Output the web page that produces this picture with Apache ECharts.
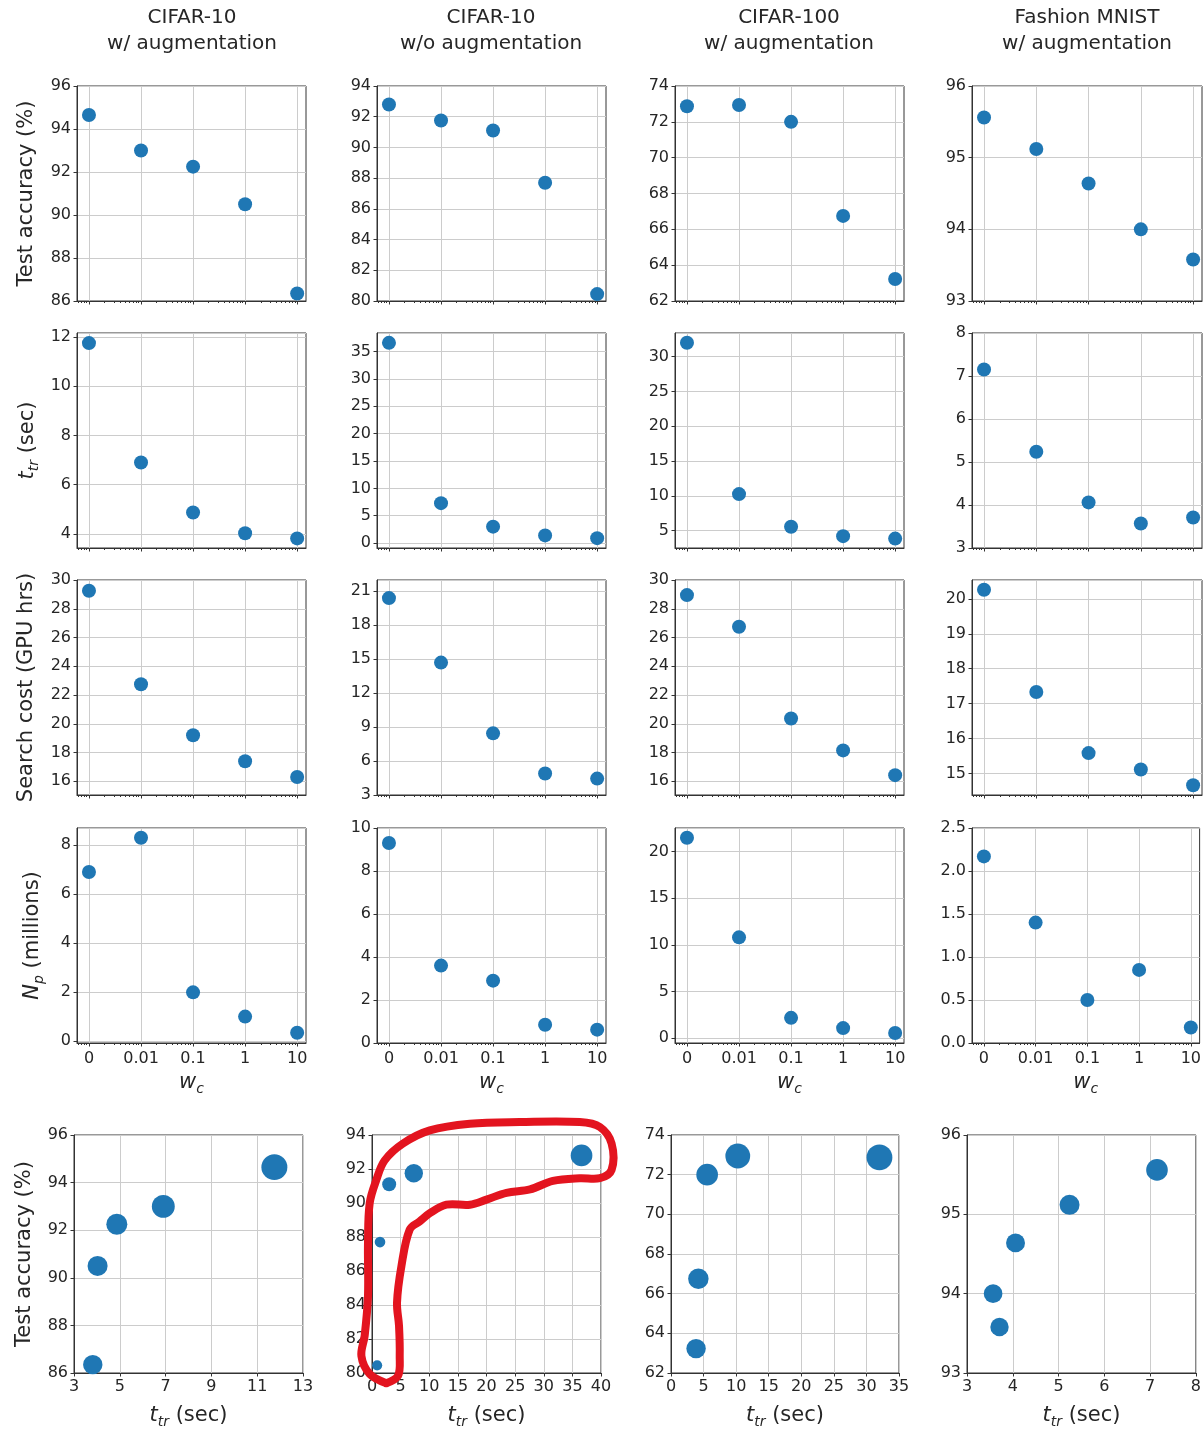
<!DOCTYPE html>
<html><head><meta charset="utf-8">
<script src="https://cdn.jsdelivr.net/npm/echarts@6/dist/echarts.min.js"></script>
<style>html,body{margin:0;padding:0;background:#fff}#c{width:1204px;height:1430px}</style>
</head><body><div id="c"></div>
<script>
// ---------- data ----------
const wcLabels = ['0', '0.01', '0.1', '1', '10'];
const wcPos = [0, 1, 2, 3, 4];
const columnTitles = ['CIFAR-10\nw/ augmentation', 'CIFAR-10\nw/o augmentation', 'CIFAR-100\nw/ augmentation', 'Fashion MNIST\nw/ augmentation'];

const accC10Aug   = [94.65, 93.0, 92.25, 90.5, 86.35];
const accC10NoAug = [92.8, 91.75, 91.1, 87.7, 80.45];
const accC100     = [72.87, 72.94, 72.0, 66.75, 63.23];
const accFMnist   = [95.56, 95.12, 94.64, 94.0, 93.58];

const tC10Aug   = [11.75, 6.9, 4.87, 4.03, 3.82];
const tC10NoAug = [36.6, 7.3, 3.0, 1.4, 0.9];
const tC100     = [32.0, 10.25, 5.55, 4.2, 3.85];
const tFMnist   = [7.15, 5.24, 4.06, 3.57, 3.71];

const costC10Aug   = [29.25, 22.75, 19.2, 17.4, 16.3];
const costC10NoAug = [20.4, 14.7, 8.45, 4.9, 4.45];
const costC100     = [28.95, 26.75, 20.37, 18.15, 16.43];
const costFMnist   = [20.26, 17.33, 15.58, 15.11, 14.66];

const npC10Aug   = [6.9, 8.3, 1.98, 0.99, 0.33];
const npC10NoAug = [9.3, 3.6, 2.9, 0.85, 0.62];
const npC100     = [21.5, 10.8, 2.15, 1.05, 0.52];
const npFMnist   = [2.17, 1.4, 0.5, 0.85, 0.18];

// hand-drawn highlight loop (data coords of CIFAR-10 w/o aug, bottom panel)
const loopT   = [2.5, 4.55, 4.84, 4.72, 4.37, 5.14, 6.59, 8.34, 10.1, 13.0, 17.1, 20.0, 23.5, 27.6, 31.6, 36.3, 39.8, 41.85, 41.85, 39.8, 36.3, 25.8, 17.1, 10.1, 5.42, 2.2, 0.77, -0.4, -0.7, -0.7, -1.28, -1.85, -0.4, 2.5];
const loopAcc = [79.4, 79.84, 81.0, 82.77, 84.14, 86.29, 88.44, 88.92, 89.4, 89.9, 89.9, 90.2, 90.6, 90.8, 91.3, 91.46, 91.46, 91.95, 93.5, 94.47, 94.76, 94.76, 94.66, 94.27, 93.5, 92.5, 91.37, 90.0, 87.66, 84.53, 82.19, 81.0, 79.94, 79.4];

const accCols  = [accC10Aug, accC10NoAug, accC100, accFMnist];
const tCols    = [tC10Aug, tC10NoAug, tC100, tFMnist];
const costCols = [costC10Aug, costC10NoAug, costC100, costFMnist];
const npCols   = [npC10Aug, npC10NoAug, npC100, npFMnist];
const topRows  = [accCols, tCols, costCols, npCols];

// ---------- axis ranges [min, max, step] ----------
const yTop = [
  [[86, 96, 2], [80, 94, 2], [62, 74, 2], [93, 96, 1]],
  [[3.43, 12.16, 2], [-0.9, 38.4, 5], [2.5, 33.4, 5], [3, 8, 1]],
  [[15.05, 30, 2], [3, 22, 3], [15.05, 30, 2], [14.38, 20.54, 1]],
  [[-0.09, 8.7, 2], [0, 10, 2], [-0.55, 22.55, 5], [0, 2.5, 0.5]]
];
const xBot = [[3, 13, 2], [0, 40, 5], [0, 35, 5], [3, 8, 1]];
const yBot = [[86, 96, 2], [80, 94, 2], [62, 74, 2], [93, 96, 1]];

// ---------- layout / style ----------
const FONT = 'DejaVu Sans';
const BLUE = '#1f77b4';
const DARK = '#333333';
const TXT = '#262626';
const GRIDC = '#cccccc';
const colLeft = [77, 377, 675, 972];
const colW = [229, 229, 229, 230];
const rowTop = [86, 333, 580, 828];
const rowH = 215;
const botLeft = [74, 372, 671, 967];
const botW = [229, 229, 228, 229];
const botTop = 1135, botH = 238;
const titleCenters = [192, 491, 789, 1087];
const yNames = ['Test accuracy (%)', '{i|t}{s|tr} (sec)', 'Search cost (GPU hrs)', '{i|N}{s|p} (millions)'];
const yNameGaps = [37, 36, 37, 31];

const nameStyle = {
  fontSize: 21, color: TXT, fontFamily: FONT, lineHeight: 26,
  rich: {
    i: { fontStyle: 'italic', fontSize: 21, fontFamily: FONT, color: TXT },
    s: { fontStyle: 'italic', fontSize: 14, fontFamily: FONT, color: TXT, verticalAlign: 'bottom', lineHeight: 14 }
  }
};

const grids = [], xAxes = [], yAxes = [], series = [], titles = [];
const isInt = v => Math.abs(v - Math.round(v)) < 1e-6;

function addGrid(l, t, w, h) {
  grids.push({ left: l, top: t, width: w, height: h, show: true, borderColor: DARK, borderWidth: 1, containLabel: false });
  return grids.length - 1;
}

function valueAxis(gi, spec, o) {
  const [mn, mx, step] = spec;
  const fromMin = o.fromMin || isInt(mn / step);
  const ax = {
    type: 'value', gridIndex: gi, min: mn, max: mx,
    axisLine: { show: true, onZero: false, lineStyle: { color: DARK, width: 1 } },
    axisTick: { show: true, length: 3.5, inside: false, lineStyle: { color: DARK, width: 1 } },
    splitLine: { show: true, lineStyle: { color: GRIDC, width: 1 } },
    axisLabel: {
      show: o.labels !== false, fontSize: 16, color: TXT, fontFamily: FONT, margin: 6,
      formatter: v => o.decimals ? v.toFixed(o.decimals) : String(Math.round(v * 1000) / 1000)
    }
  };
  if (fromMin) {
    ax.interval = step;
    ax.axisLabel.showMinLabel = true;
    ax.axisLabel.showMaxLabel = isInt((mx - mn) / step);
  } else {
    ax.minInterval = step; ax.maxInterval = step;
    ax.splitNumber = Math.max(1, Math.round((mx - mn) / step));
    ax.axisLabel.showMinLabel = false;
    ax.axisLabel.showMaxLabel = isInt(mx / step);
  }
  return Object.assign(ax, o.extra || {});
}

// minor tick positions for the w_c axis (log-style)
const minorPos = [-0.2, -0.15, -0.1, -0.06];
for (let i = 0; i < 4; i++) for (let k = 2; k <= 9; k++) minorPos.push(i + Math.log10(k));

// ---------- top 4 rows ----------
for (let r = 0; r < 4; r++) {
  for (let c = 0; c < 4; c++) {
    const gi = addGrid(colLeft[c], rowTop[r], colW[c], rowH);
    const xi = xAxes.length;
    xAxes.push({
      type: 'value', gridIndex: gi, min: -0.23, max: 4.17, position: 'bottom',
      minInterval: 1, maxInterval: 1, splitNumber: 4,
      axisLine: { show: true, onZero: false, lineStyle: { color: DARK } },
      axisTick: { show: true, customValues: wcPos, length: 3.5, lineStyle: { color: DARK } },
      axisLabel: {
        show: r === 3, customValues: wcPos, fontSize: 16, color: TXT, fontFamily: FONT, margin: 8,
        formatter: v => (isInt(v) && v >= 0 && v <= 4) ? wcLabels[Math.round(v)] : ''
      },
      splitLine: { show: true, lineStyle: { color: GRIDC, width: 1 } },
      name: r === 3 ? '{i|w}{s|c}' : '', nameLocation: 'middle', nameGap: 27, nameTextStyle: nameStyle
    });
    xAxes.push({
      type: 'value', gridIndex: gi, min: -0.23, max: 4.17, position: 'bottom',
      minInterval: 1, maxInterval: 1, splitNumber: 4,
      axisLine: { show: false, onZero: false },
      axisTick: { show: true, customValues: minorPos, length: 2, lineStyle: { color: DARK } },
      axisLabel: { show: false },
      splitLine: { show: false }
    });
    const yi = yAxes.length;
    const extra = c === 0 ? { name: yNames[r], nameLocation: 'middle', nameRotate: 90, nameGap: yNameGaps[r], nameTextStyle: nameStyle } : {};
    yAxes.push(valueAxis(gi, yTop[r][c], { decimals: (r === 3 && c === 3) ? 1 : 0, extra }));
    const vals = topRows[r][c];
    series.push({
      type: 'scatter', xAxisIndex: xi, yAxisIndex: yi, symbolSize: 14, z: 5,
      itemStyle: { color: BLUE, opacity: 1 },
      data: wcPos.map((x, i) => [x, vals[i]])
    });
  }
}

// ---------- bottom row ----------
for (let c = 0; c < 4; c++) {
  const gi = addGrid(botLeft[c], botTop, botW[c], botH);
  const xi = xAxes.length;
  xAxes.push(valueAxis(gi, xBot[c], { fromMin: true, extra: { position: 'bottom', name: '{i|t}{s|tr} (sec)', nameLocation: 'middle', nameGap: 30, nameTextStyle: nameStyle } }));
  const yi = yAxes.length;
  const extra = c === 0 ? { name: 'Test accuracy (%)', nameLocation: 'middle', nameRotate: 90, nameGap: 36, nameTextStyle: nameStyle } : {};
  yAxes.push(valueAxis(gi, yBot[c], { extra }));
  const t = tCols[c], acc = accCols[c], cost = costCols[c];
  series.push({
    type: 'scatter', xAxisIndex: xi, yAxisIndex: yi, z: 5,
    symbolSize: d => 4.8 * Math.sqrt(d[2]),
    itemStyle: { color: BLUE, opacity: 1 },
    data: t.map((x, i) => [x, acc[i], cost[i]])
  });
  if (c === 1) {
    series.push({
      type: 'custom', xAxisIndex: xi, yAxisIndex: yi, z: 10, clip: false, silent: true,
      coordinateSystem: 'cartesian2d',
      encode: { x: 0, y: 1 },
      data: [[loopT[0], loopAcc[0]]],
      renderItem: function (params, api) {
        const pts = loopT.map((x, i) => api.coord([x, loopAcc[i]]));
        return {
          type: 'polyline',
          shape: { points: pts, smooth: 0.35 },
          style: { stroke: '#e3141f', lineWidth: 8, fill: null, lineCap: 'round', lineJoin: 'round' }
        };
      }
    });
  }
}

// ---------- column titles ----------
for (let c = 0; c < 4; c++) {
  titles.push({
    text: columnTitles[c], left: titleCenters[c], top: 5, textAlign: 'center', padding: 0,
    textStyle: { fontSize: 20, fontWeight: 'normal', color: TXT, fontFamily: FONT, lineHeight: 26 }
  });
}

const chart = echarts.init(document.getElementById('c'), null, { renderer: 'canvas' });
chart.setOption({
  backgroundColor: '#ffffff',
  animation: false,
  textStyle: { fontFamily: FONT },
  title: titles,
  grid: grids,
  xAxis: xAxes,
  yAxis: yAxes,
  series: series
});
</script>
</body></html>
